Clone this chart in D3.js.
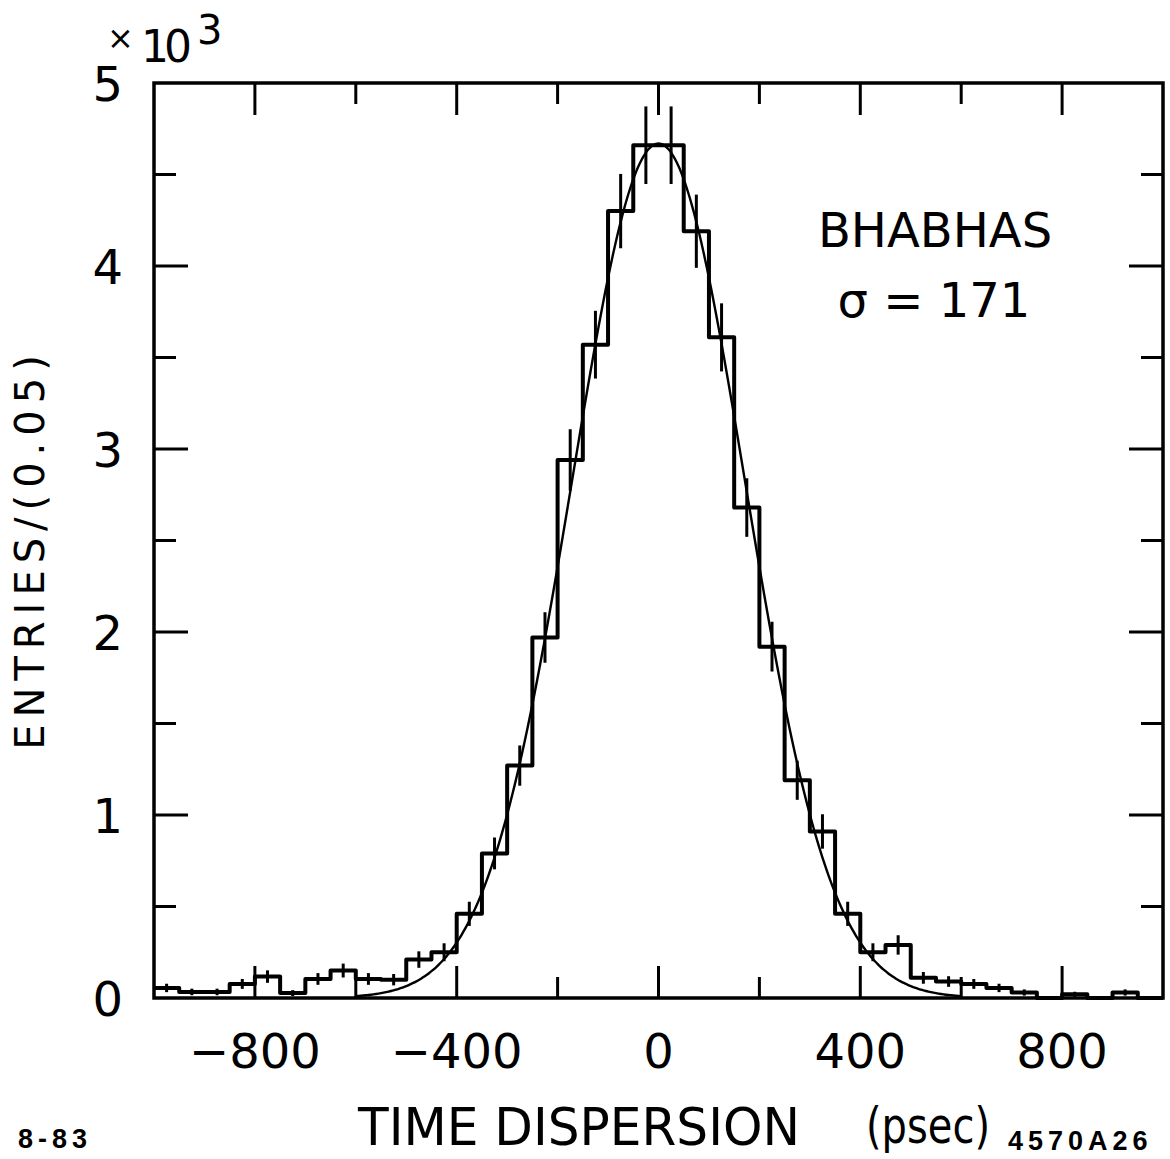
<!DOCTYPE html>
<html>
<head>
<meta charset="utf-8">
<script src="https://cdn.jsdelivr.net/npm/d3@7"></script>
<style>
  body { margin: 0; background: #fff; }
  text { font-family: "DejaVu Sans", sans-serif; fill: #000; }
</style>
</head>
<body>
<div id="chart"></div>
<script>
// histogram bins: 50 psec wide, starting at -1000 psec
var binStart = -1000;
var binWidth = 50;

// entries per bin
var counts = [55, 33, 33, 77, 117, 27, 104, 150, 104, 100,
  210, 250, 460, 790, 1270, 1970, 2940, 3570, 4300, 4660,
  4660, 4190, 3610, 2680, 1920, 1190, 910, 460, 250, 290,
  110, 90, 77, 55, 30, 0, 20, 0, 30, 0];

// error bar half lengths per bin
var errors = [23, 18, 18, 27, 34, 16, 32, 38, 32, 31,
  45, 49, 66, 87, 110, 138, 168, 185, 203, 212,
  212, 200, 186, 160, 136, 107, 94, 66, 49, 53,
  32, 29, 27, 23, 17, 0, 14, 0, 17, 0];

// gaussian fit parameters
var fitAmp = 4670;
var fitMean = 0;
var fitSigma = 171;
var fitRange = [-600, 600];

// tick values
var xMajorTicks = [-800, -400, 0, 400, 800];
var xMinorTicks = [-600, -200, 200, 600];
var yMajorTicks = [0, 1000, 2000, 3000, 4000, 5000];
var yMinorTicks = [500, 1500, 2500, 3500, 4500];
var yTickLabels = ["0", "1", "2", "3", "4", "5"];

var svgWidth = 1170;
var svgHeight = 1159;

var svg = d3.select("#chart")
  .append("svg")
  .attr("width", svgWidth)
  .attr("height", svgHeight);

var xScale = d3.scaleLinear()
  .domain([-1000, 1000])
  .range([154, 1163]);

var yScale = d3.scaleLinear()
  .domain([0, 5000])
  .range([998, 83]);

var plotLeft = xScale.range()[0], plotRight = xScale.range()[1];
var plotBottom = yScale.range()[0], plotTop = yScale.range()[1];

// histogram as step line
var histData = counts.map(function (c, i) {
  return { x: binStart + i * binWidth, y: c };
});
histData.push({ x: binStart + counts.length * binWidth, y: counts[counts.length - 1] });

var stepLine = d3.line()
  .x(d => xScale(d.x))
  .y(d => yScale(d.y))
  .curve(d3.curveStepAfter);

svg.append("path")
  .datum(histData)
  .attr("d", stepLine)
  .attr("fill", "none")
  .attr("stroke", "#000")
  .attr("stroke-width", 4)
  .attr("stroke-linejoin", "round");

// error bars at bin centres
svg.append("g")
  .selectAll("line")
  .data(histData.slice(0, counts.length).filter((d, i) => errors[i] > 0))
  .enter()
  .append("line")
  .attr("x1", d => xScale(d.x + binWidth / 2))
  .attr("x2", d => xScale(d.x + binWidth / 2))
  .attr("y1", function (d) { return yScale(d.y - errors[(d.x - binStart) / binWidth]); })
  .attr("y2", function (d) { return yScale(d.y + errors[(d.x - binStart) / binWidth]); })
  .attr("stroke", "#000")
  .attr("stroke-width", 3);

// gaussian fit curve
var fitX = d3.range(fitRange[0], fitRange[1] + 1, 5);
var fitLine = d3.line()
  .x(d => xScale(d))
  .y(d => yScale(fitAmp * Math.exp(-0.5 * Math.pow((d - fitMean) / fitSigma, 2))))
  .curve(d3.curveBasis);

svg.append("path")
  .datum(fitX)
  .attr("d", fitLine)
  .attr("fill", "none")
  .attr("stroke", "#000")
  .attr("stroke-width", 2.4);

// frame
svg.append("rect")
  .attr("x", plotLeft)
  .attr("y", plotTop)
  .attr("width", plotRight - plotLeft)
  .attr("height", plotBottom - plotTop)
  .attr("fill", "none")
  .attr("stroke", "#000")
  .attr("stroke-width", 3.5);

// ticks pointing inward on all four sides
var tickG = svg.append("g")
  .attr("stroke", "#000")
  .attr("stroke-width", 3);

function xTicks(vals, len) {
  vals.forEach(function (v) {
    tickG.append("line")
      .attr("x1", xScale(v)).attr("x2", xScale(v))
      .attr("y1", plotBottom).attr("y2", plotBottom - len);
    tickG.append("line")
      .attr("x1", xScale(v)).attr("x2", xScale(v))
      .attr("y1", plotTop).attr("y2", plotTop + len);
  });
}
function yTicks(vals, len) {
  vals.forEach(function (v) {
    tickG.append("line")
      .attr("x1", plotLeft).attr("x2", plotLeft + len)
      .attr("y1", yScale(v)).attr("y2", yScale(v));
    tickG.append("line")
      .attr("x1", plotRight).attr("x2", plotRight - len)
      .attr("y1", yScale(v)).attr("y2", yScale(v));
  });
}
xTicks(xMajorTicks, 32);
xTicks(xMinorTicks, 21);
yTicks(yMajorTicks.slice(1, 5), 34);
yTicks(yMinorTicks, 22);

// tick labels
svg.append("g")
  .selectAll("text")
  .data(xMajorTicks)
  .enter()
  .append("text")
  .attr("x", d => xScale(d))
  .attr("y", 1068)
  .attr("text-anchor", "middle")
  .style("font-size", "48px")
  .text(d => d < 0 ? "\u2212" + Math.abs(d) : d);

svg.append("g")
  .selectAll("text")
  .data(yMajorTicks)
  .enter()
  .append("text")
  .attr("x", 123)
  .attr("y", d => yScale(d) + 18)
  .attr("text-anchor", "end")
  .style("font-size", "48px")
  .text((d, i) => yTickLabels[i]);

// x10^3 multiplier
svg.append("text")
  .attr("x", 107)
  .attr("y", 49)
  .style("font-size", "32px")
  .text("\u00d7");
svg.append("text")
  .attr("x", 141)
  .attr("y", 62)
  .style("font-size", "44px")
  .style("letter-spacing", "-5px")
  .text("10");
svg.append("text")
  .attr("x", 197)
  .attr("y", 44)
  .style("font-size", "40px")
  .text("3");

// axis titles
svg.append("text")
  .attr("x", 358)
  .attr("y", 1145)
  .attr("textLength", 442)
  .attr("lengthAdjust", "spacingAndGlyphs")
  .style("font-size", "52px")
  .text("TIME DISPERSION");

svg.append("text")
  .attr("x", 866)
  .attr("y", 1143)
  .attr("textLength", 124)
  .attr("lengthAdjust", "spacingAndGlyphs")
  .style("font-size", "50px")
  .text("(psec)");

svg.append("text")
  .attr("transform", "translate(44, 549) rotate(-90)")
  .attr("text-anchor", "middle")
  .style("font-size", "40px")
  .style("letter-spacing", "7px")
  .text("ENTRIES/(0.05)");

// legend text
svg.append("text")
  .attr("x", 935)
  .attr("y", 247)
  .attr("text-anchor", "middle")
  .style("font-size", "48px")
  .text("BHABHAS");

svg.append("text")
  .attr("x", 934)
  .attr("y", 317)
  .attr("text-anchor", "middle")
  .style("font-size", "48px")
  .text("\u03c3 = 171");

// figure ids
svg.append("text")
  .attr("x", 18)
  .attr("y", 1148)
  .style("font-family", "Liberation Sans, sans-serif")
  .style("font-size", "27px")
  .style("font-weight", "bold")
  .style("letter-spacing", "5px")
  .text("8-83");

svg.append("text")
  .attr("x", 1008)
  .attr("y", 1150)
  .style("font-family", "Liberation Sans, sans-serif")
  .style("font-size", "27px")
  .style("font-weight", "bold")
  .style("letter-spacing", "5px")
  .text("4570A26");
</script>
</body>
</html>
